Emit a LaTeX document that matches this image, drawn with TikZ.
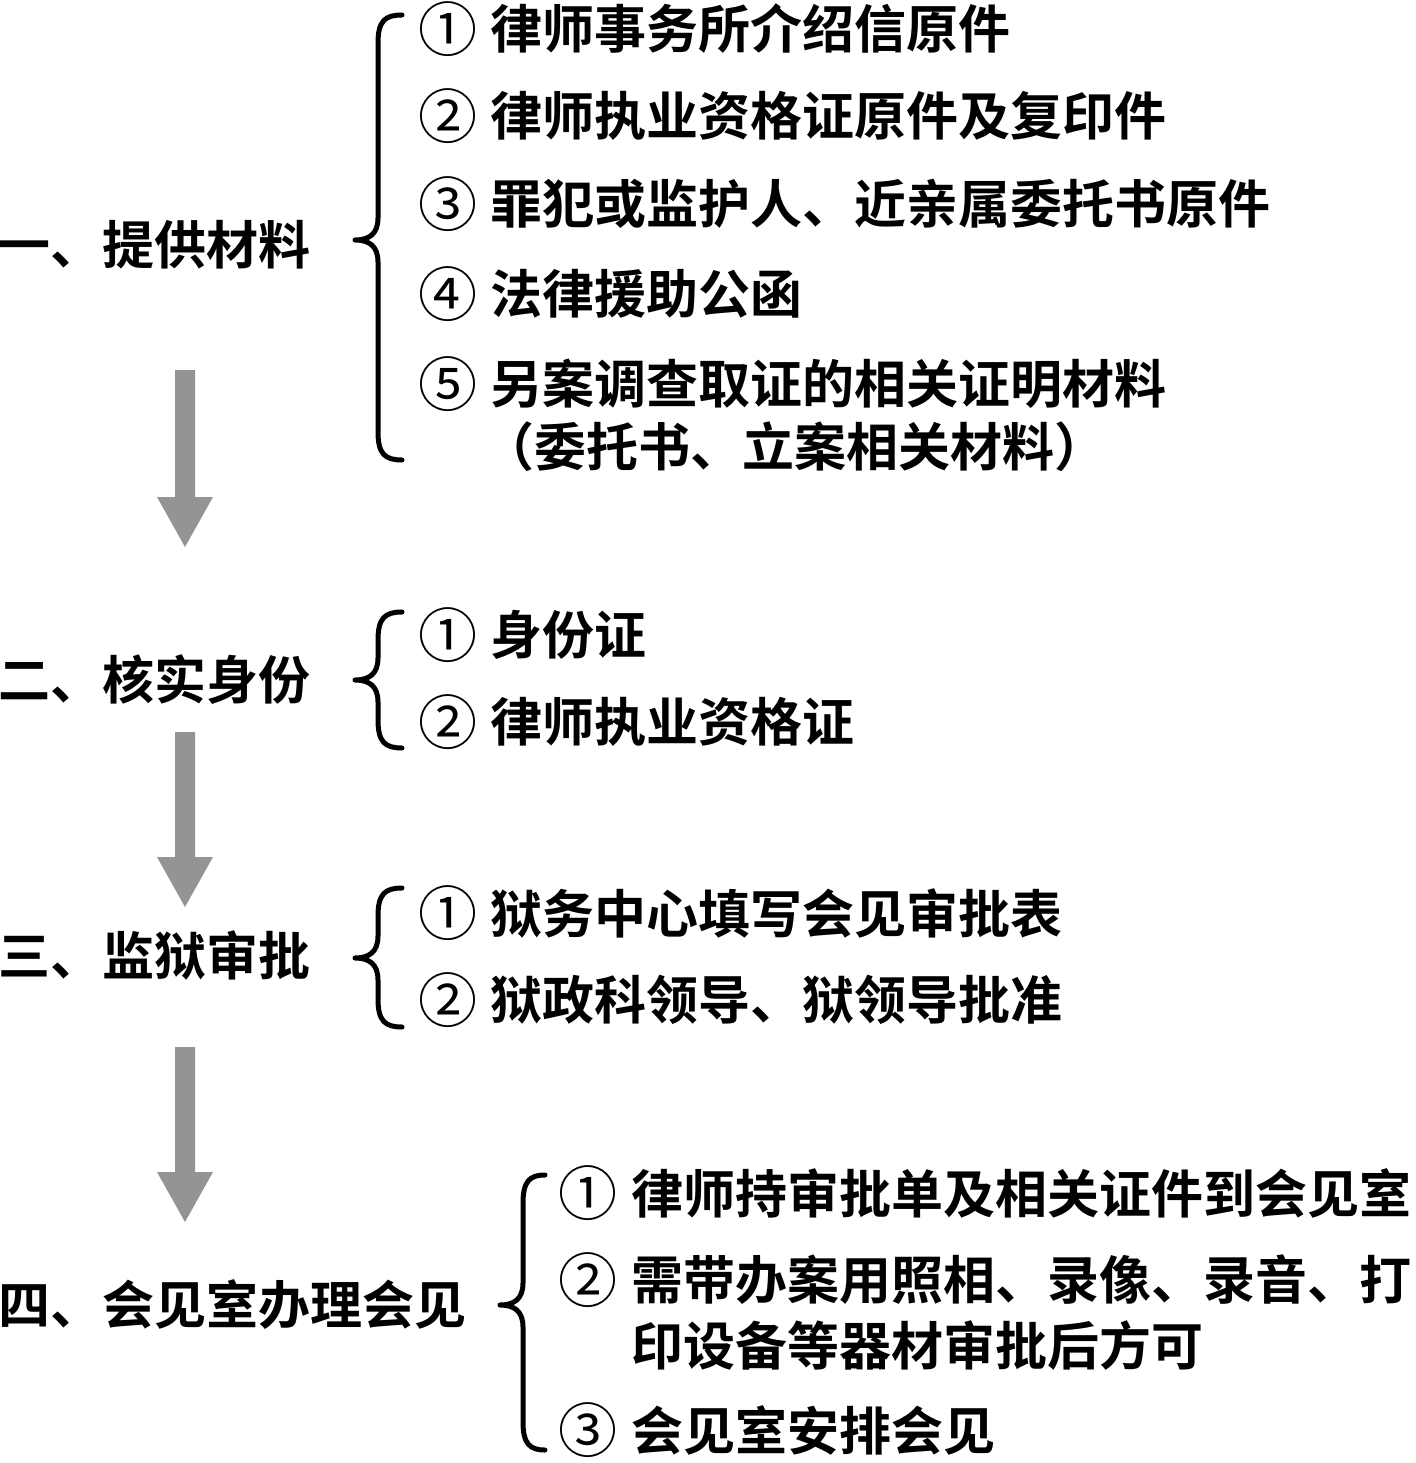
\documentclass[tikz,border=0pt]{standalone}
\usepackage{fontspec}
\newfontfamily\cjkb{Noto Sans CJK SC}[BoldFont={* Bold}]
\newfontfamily\cjkr{Noto Sans CJK SC}
\tikzset{
  txt/.style={anchor=west, inner sep=0pt, font=\cjkb\bfseries\fontsize{52}{52}\selectfont},
  num/.style={anchor=west, inner sep=0pt, font=\cjkr\fontsize{59}{59}\selectfont},
  bracepath/.style={line width=5pt, line cap=round, line join=round},
  flowarrow/.style={fill=black!42, draw=none}
}
\newcommand\mybrace[5]{%
  \draw[bracepath] (#2,#3) .. controls (#1+30,#3) and (#1+23,#3+6) .. (#1+23,#3+28)
    -- (#1+23,#4-22) .. controls (#1+23,#4-6) and (#1+14,#4) .. (#1,#4)
    .. controls (#1+14,#4) and (#1+23,#4+6) .. (#1+23,#4+22)
    -- (#1+23,#5-28) .. controls (#1+23,#5-6) and (#1+30,#5) .. (#2,#5);}
\newcommand\myarrow[3]{% x, top, tip
  \fill[flowarrow] (#1-10,#2) -- (#1+10,#2) -- (#1+10,#3-50) -- (#1+28,#3-50) -- (#1,#3) -- (#1-28,#3-50) -- (#1-10,#3-50) -- cycle;}
\begin{document}
\begin{tikzpicture}[x=1pt,y=-1pt]
\useasboundingbox (0,0) rectangle (1415,1463);
% group 1
\node[txt] (l1) at (-2,245) {一、提供材料};
\node[num] (n11) at (418,29) {①};
\node[txt] (t11) at (490,29) {律师事务所介绍信原件};
\node[num] (n12) at (418,116) {②};
\node[txt] (t12) at (490,116) {律师执业资格证原件及复印件};
\node[num] (n13) at (418,204) {③};
\node[txt] (t13) at (490,204) {罪犯或监护人、近亲属委托书原件};
\node[num] (n14) at (418,294) {④};
\node[txt] (t14) at (490,294) {法律援助公函};
\node[num] (n15) at (418,384) {⑤};
\node[txt] (t15) at (490,384) {另案调查取证的相关证明材料};
\node[txt] (t16) at (482,447) {（委托书、立案相关材料）};
\mybrace{355}{402}{15}{240}{460}
\myarrow{185}{370}{547}
% group 2
\node[txt] (l2) at (-2,680) {二、核实身份};
\node[num] (n21) at (418,635) {①};
\node[txt] (t21) at (490,635) {身份证};
\node[num] (n22) at (418,722) {②};
\node[txt] (t22) at (490,722) {律师执业资格证};
\mybrace{355}{402}{612}{680}{748}
\myarrow{185}{732}{907}
% group 3
\node[txt] (l3) at (-2,955) {三、监狱审批};
\node[num] (n31) at (418,913) {①};
\node[txt] (t31) at (490,913) {狱务中心填写会见审批表};
\node[num] (n32) at (418,1000) {②};
\node[txt] (t32) at (490,1000) {狱政科领导、狱领导批准};
\mybrace{355}{402}{888}{958}{1027}
\myarrow{185}{1047}{1222}
% group 4
\node[txt] (l4) at (-2,1305) {四、会见室办理会见};
\node[num] (n41) at (558,1193) {①};
\node[txt] (t41) at (631,1193) {律师持审批单及相关证件到会见室};
\node[num] (n42) at (558,1280) {②};
\node[txt] (t42) at (631,1280) {需带办案用照相、录像、录音、打};
\node[txt] (t43) at (631,1345) {印设备等器材审批后方可};
\node[num] (n44) at (558,1430) {③};
\node[txt] (t44) at (631,1430) {会见室安排会见};
\mybrace{500}{545}{1175}{1305}{1450}
\end{tikzpicture}
\end{document}
